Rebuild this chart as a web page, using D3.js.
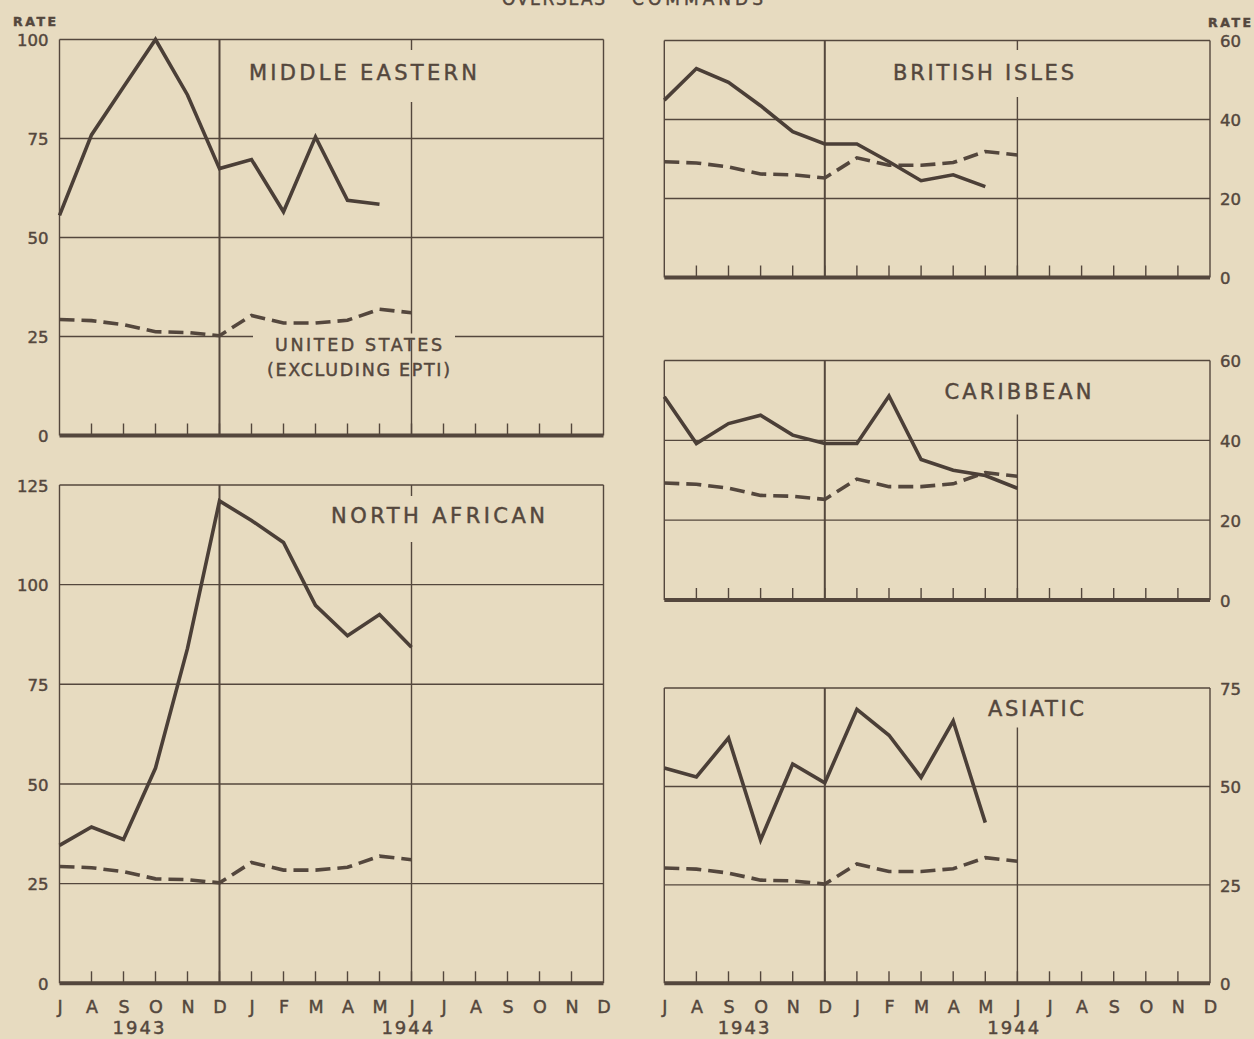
<!DOCTYPE html>
<html>
<head>
<meta charset="utf-8">
<script src="https://cdn.jsdelivr.net/npm/d3@7"></script>
<style>
  html, body { margin: 0; padding: 0; background: #e7dbc0; }
  svg { display: block; }
  text { font-family: "DejaVu Sans", "Liberation Sans", sans-serif; fill: #54473d;
         stroke: #54473d; stroke-width: 0.45px; }
</style>
</head>
<body>
<script>
// month labels, July 1943 .. December 1944
const months = ["J","A","S","O","N","D","J","F","M","A","M","J","J","A","S","O","N","D"];
const years = ["1943", "1944"];
const yearAt = [2.5, 10.9];

// United States (excluding EPTI), same reference series in every panel
const usRate = [29.3, 29, 28, 26.2, 26, 25.2, 30.3, 28.4, 28.4, 29.1, 31.9, 31];

// overseas commands
const middleEastern = [55.6, 75.9, 88, 100, 86, 67.4, 69.7, 56.5, 75.4, 59.4, 58.4];
const northAfrican  = [34.6, 39.2, 36.1, 54, 84, 121, 116.1, 110.6, 94.8, 87.2, 92.5, 84.3];
const britishIsles  = [44.9, 52.9, 49.4, 43.5, 36.9, 33.8, 33.8, 29.3, 24.5, 26, 23];
const caribbean     = [50.9, 39.2, 44.2, 46.3, 41.3, 39.2, 39.2, 51.1, 35.2, 32.5, 31.2, 28];
const asiatic       = [54.7, 52.4, 62.3, 36.4, 55.7, 50.9, 69.6, 63, 52.3, 66.6, 40.8];

// y tick labels
const ticksME = [0, 25, 50, 75, 100];
const ticksNA = [0, 25, 50, 75, 100, 125];
const ticksBI = [0, 20, 40, 60];
const ticksCA = [0, 20, 40, 60];
const ticksAS = [0, 25, 50, 75];

const ink = "#54473d";
const paper = "#e7dbc0";

// panel frames (layout only)
const panels = [
  {name: "MIDDLE EASTERN", values: middleEastern, ticks: ticksME, side: "left",
   x0: 59.5, x1: 603.5, y0: 39.5, y1: 435.5, titleX: 249, titleW: 228, titleY: 72,
   gap: [10.5, 62.5], rate: true},
  {name: "NORTH AFRICAN", values: northAfrican, ticks: ticksNA, side: "left",
   x0: 59.5, x1: 603.5, y0: 485, y1: 983.3, titleX: 331, titleW: 214, titleY: 515,
   gap: [11, 57], months: true},
  {name: "BRITISH ISLES", values: britishIsles, ticks: ticksBI, side: "right",
   x0: 664.3, x1: 1210, y0: 40.5, y1: 277.5, titleX: 893, titleW: 181, titleY: 72.7,
   gap: [9.5, 56.5], rate: true},
  {name: "CARIBBEAN", values: caribbean, ticks: ticksCA, side: "right",
   x0: 664.3, x1: 1210, y0: 360.5, y1: 600, titleX: 944.5, titleW: 147, titleY: 391,
   gap: [0, 54]},
  {name: "ASIATIC", values: asiatic, ticks: ticksAS, side: "right",
   x0: 664.3, x1: 1210, y0: 688, y1: 983.3, titleX: 988, titleW: 96, titleY: 708.4,
   gap: [0, 39.5], months: true}
];

const svg = d3.select("body").append("svg")
    .attr("width", 1254)
    .attr("height", 1039);

svg.append("rect")
    .attr("width", 1254).attr("height", 1039)
    .attr("fill", paper);

// page heading, mostly cut off at the top edge as in the original page
svg.append("text").attr("x", 502).attr("y", 5)
    .attr("font-size", 17).attr("textLength", 103).attr("lengthAdjust", "spacing")
    .text("OVERSEAS");
svg.append("text").attr("x", 632).attr("y", 5)
    .attr("font-size", 17).attr("textLength", 131).attr("lengthAdjust", "spacing")
    .text("COMMANDS");

panels.forEach(function(p) {
  const x = d3.scaleLinear().domain([0, months.length - 1]).range([p.x0, p.x1]);
  const y = d3.scaleLinear().domain([0, d3.max(p.ticks)]).range([p.y1, p.y0]);
  const g = svg.append("g");

  // horizontal grid
  g.selectAll(".grid")
    .data(p.ticks.filter(t => t > 0))
    .enter().append("line")
      .attr("x1", p.x0).attr("x2", p.x1)
      .attr("y1", d => y(d)).attr("y2", d => y(d))
      .attr("stroke", ink).attr("stroke-width", 1.4);

  // frame sides
  g.append("line").attr("x1", p.x0).attr("x2", p.x0).attr("y1", p.y0).attr("y2", p.y1)
      .attr("stroke", ink).attr("stroke-width", 1.4);
  g.append("line").attr("x1", p.x1).attr("x2", p.x1).attr("y1", p.y0).attr("y2", p.y1)
      .attr("stroke", ink).attr("stroke-width", 1.4);

  // December 1943 divider
  g.append("line").attr("x1", x(5)).attr("x2", x(5)).attr("y1", p.y0).attr("y2", p.y1)
      .attr("stroke", ink).attr("stroke-width", 2);

  // June 1944 divider, broken round the title
  if (p.gap[0] > 0) {
    g.append("line").attr("x1", x(11)).attr("x2", x(11))
        .attr("y1", p.y0).attr("y2", p.y0 + p.gap[0])
        .attr("stroke", ink).attr("stroke-width", 1.4);
  }
  g.append("line").attr("x1", x(11)).attr("x2", x(11))
      .attr("y1", p.y0 + p.gap[1]).attr("y2", p.y1)
      .attr("stroke", ink).attr("stroke-width", 1.4);

  // month ticks on the base line
  g.selectAll(".mtick")
    .data(d3.range(1, months.length - 1))
    .enter().append("line")
      .attr("x1", d => x(d)).attr("x2", d => x(d))
      .attr("y1", p.y1).attr("y2", p.y1 - 12)
      .attr("stroke", ink).attr("stroke-width", 1.4);

  // heavy zero line
  g.append("line").attr("x1", p.x0).attr("x2", p.x1).attr("y1", y(0)).attr("y2", y(0))
      .attr("stroke", ink).attr("stroke-width", 4);

  // y labels
  const axis = p.side === "left"
      ? d3.axisLeft(y).tickValues(p.ticks).tickSize(0).tickPadding(11)
      : d3.axisRight(y).tickValues(p.ticks).tickSize(0).tickPadding(10);
  const ax = g.append("g")
      .attr("transform", `translate(${p.side === "left" ? p.x0 : p.x1},0)`)
      .call(axis);
  ax.select(".domain").remove();
  ax.selectAll("text")
      .attr("font-size", 16.5)
      .attr("font-family", "DejaVu Sans, sans-serif")
      .attr("fill", ink)
      .attr("dy", "0.38em");

  if (p.rate) {
    g.append("text")
      .attr("x", p.side === "left" ? 13 : 1208)
      .attr("y", p.y0 - 14)
      .attr("font-size", 12.5).attr("font-weight", "bold")
      .attr("textLength", 43).attr("lengthAdjust", "spacing")
      .text("RATE");
  }

  // title
  g.append("text")
    .attr("x", p.titleX).attr("y", p.titleY + 7.6)
    .attr("font-size", 21)
    .attr("textLength", p.titleW).attr("lengthAdjust", "spacing")
    .text(p.name);

  // US label in the first panel
  if (p.name === "MIDDLE EASTERN") {
    g.append("rect")
      .attr("x", 253).attr("y", y(25) - 3).attr("width", 202).attr("height", 6)
      .attr("fill", paper);
    g.append("text").attr("x", 275).attr("y", 351)
      .attr("font-size", 17.5).attr("textLength", 167).attr("lengthAdjust", "spacing")
      .text("UNITED STATES");
    g.append("text").attr("x", 267).attr("y", 375.5)
      .attr("font-size", 17.5).attr("textLength", 183).attr("lengthAdjust", "spacing")
      .text("(EXCLUDING EPTI)");
  }

  const line = d3.line()
      .x((d, i) => x(i))
      .y(d => y(d));

  g.append("path")
    .datum(usRate)
    .attr("d", line)
    .attr("fill", "none")
    .attr("stroke", ink)
    .attr("stroke-width", 3.6)
    .attr("stroke-dasharray", "15,7");

  g.append("path")
    .datum(p.values)
    .attr("d", line)
    .attr("fill", "none")
    .attr("stroke", "#4b3f37")
    .attr("stroke-width", 3.6)
    .attr("stroke-linejoin", "miter");

  // month and year labels under the bottom panels
  if (p.months) {
    const mx = g.append("g")
      .attr("transform", `translate(0,${p.y1})`)
      .call(d3.axisBottom(x).tickValues(d3.range(months.length))
            .tickFormat(i => months[i]).tickSize(0));
    mx.select(".domain").remove();
    mx.selectAll("text")
      .attr("y", 30).attr("dy", 0)
      .attr("font-size", 17.5)
      .attr("font-family", "DejaVu Sans, sans-serif")
      .attr("fill", ink);

    g.selectAll(".year")
      .data(years)
      .enter().append("text")
        .attr("x", (d, i) => x(yearAt[i]))
        .attr("y", p.y1 + 51)
        .attr("text-anchor", "middle")
        .attr("font-size", 18)
        .attr("letter-spacing", 2)
        .text(d => d);
  }
});
</script>
</body>
</html>
